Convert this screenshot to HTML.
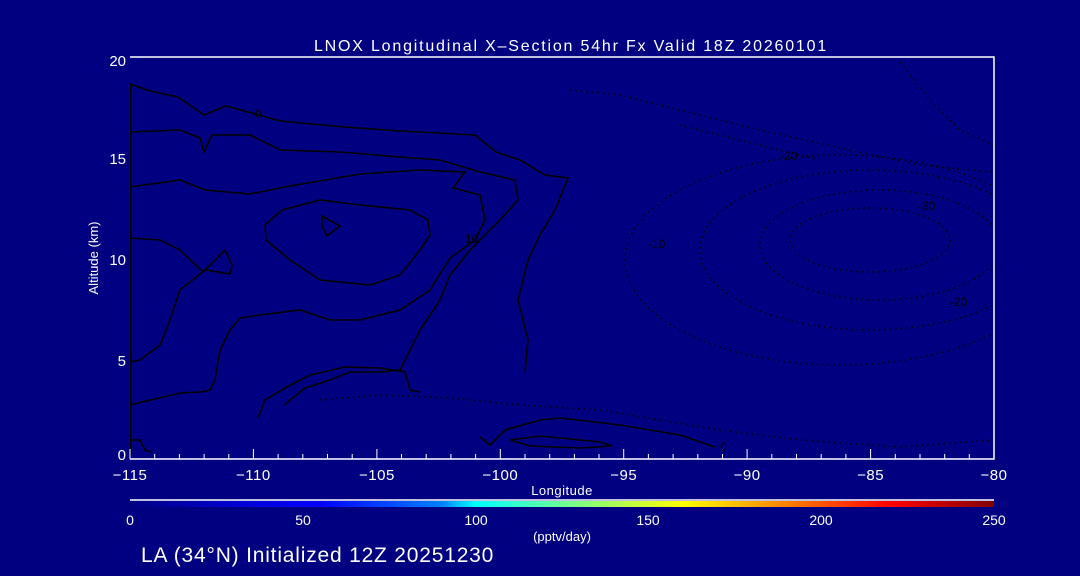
<!DOCTYPE html>
<html><head><meta charset="utf-8"><style>
html,body{margin:0;padding:0;background:#000080;}
svg{display:block;font-family:"Liberation Sans",sans-serif;}
</style></head><body>
<svg width="1080" height="576" viewBox="0 0 1080 576" xmlns="http://www.w3.org/2000/svg">
<defs>
<linearGradient id="jet" x1="0" x2="1" y1="0" y2="0">
<stop offset="0" stop-color="#000080"/>
<stop offset="0.12" stop-color="#0000d0"/>
<stop offset="0.22" stop-color="#0000ff"/>
<stop offset="0.36" stop-color="#0080ff"/>
<stop offset="0.40" stop-color="#00ffff"/>
<stop offset="0.52" stop-color="#80ff80"/>
<stop offset="0.64" stop-color="#ffff00"/>
<stop offset="0.76" stop-color="#ff8000"/>
<stop offset="0.88" stop-color="#ff0000"/>
<stop offset="1" stop-color="#800000"/>
</linearGradient>
<clipPath id="pc"><rect x="130" y="57" width="864" height="402"/></clipPath>
</defs>
<rect width="1080" height="576" fill="#000080"/>
<text x="571" y="51" fill="#fff" font-size="16" letter-spacing="1.8" text-anchor="middle">LNOX Longitudinal X–Section 54hr  Fx Valid 18Z 20260101</text>
<g clip-path="url(#pc)">
<g fill="none" stroke="#000" stroke-width="1.6">
<line x1="130" y1="84" x2="130" y2="455" stroke-width="3"/>
<polyline points="130,84 150,91 178,97 204,115 226,106 255,114 280,121 345,127 400,131 475,135 496,152 520,160 545,175 568,178 555,210 540,235 528,260 518,300 528,340 525,372"/>
<polyline points="130,132 180,130 200,138 204,152 212,135 250,135 280,150 340,152 400,157 440,160 480,172 515,180 518,200 500,220 470,250 450,275 440,300 420,330 400,370 380,372 350,372 330,380 305,388 290,400 285,405"/>
<polyline points="130,187 180,180 205,190 250,194 290,186 360,174 420,170 465,172 453,188 480,195 485,220 475,240 450,258 430,290 400,310 360,320 330,320 300,310 260,315 240,318 230,330 220,350 215,380 210,390 200,392 180,393 130,405"/>
<polygon points="265,225 282,210 320,200 360,205 410,210 428,220 430,235 420,250 400,275 370,285 320,280 290,260 266,240"/>
<polygon points="322,216 340,226 327,236 322,226"/>
<polyline points="130,238 160,240 180,250 203,272 225,250 232,265 230,274 205,270 180,290 170,320 160,345 140,360 130,362"/>
<polyline points="130,440 140,440 145,450 152,452"/>
<polyline points="258,418 265,400 285,388 310,375 345,367 380,368 405,372 410,390 420,392"/>
<polyline points="480,437 490,445 505,430 540,420 560,418 620,425 680,435 715,447"/>
<polygon points="510,440 540,436 600,442 612,446 580,448 530,446"/>
</g>
<g fill="none" stroke="#000" stroke-width="1.5" stroke-dasharray="1.5 4">
<ellipse cx="870" cy="240" rx="80" ry="32"/>
<ellipse cx="880" cy="245" rx="120" ry="55"/>
<ellipse cx="870" cy="250" rx="170" ry="80"/>
<ellipse cx="840" cy="260" rx="215" ry="105"/>
<polyline points="570,90 620,95 700,115 760,130 850,150 920,165 993,172"/>
<polyline points="900,62 930,100 960,130 993,145"/>
<polyline points="320,400 380,395 450,398 520,405 600,410 660,420 720,430 800,440 900,447 993,440"/>
<polyline points="680,125 760,145 820,160"/>
</g>
</g>
<g fill="#000" font-size="12">
<text x="255" y="118">0</text>
<text x="465" y="243">10</text>
<text x="648" y="248">-10</text>
<text x="780" y="160">-20</text>
<text x="918" y="210">-30</text>
<text x="950" y="306">-20</text>
<text x="720" y="451">0</text>
</g>
<g stroke="#fff" stroke-width="1.5" fill="none">
<polyline points="130,57 994,57 994,459 130,459"/>
</g>
<g stroke="#fff" stroke-width="1">
<line x1="130" y1="459" x2="130" y2="449"/><line x1="253.4" y1="459" x2="253.4" y2="449"/><line x1="376.9" y1="459" x2="376.9" y2="449"/><line x1="500.3" y1="459" x2="500.3" y2="449"/><line x1="623.7" y1="459" x2="623.7" y2="449"/><line x1="747.1" y1="459" x2="747.1" y2="449"/><line x1="870.6" y1="459" x2="870.6" y2="449"/>
<path d="M154.7 459v-5M179.4 459v-5M204.1 459v-5M228.8 459v-5M278.1 459v-5M302.8 459v-5M327.5 459v-5M352.2 459v-5M401.5 459v-5M426.2 459v-5M450.9 459v-5M475.6 459v-5M525 459v-5M549.7 459v-5M574.4 459v-5M599 459v-5M648.4 459v-5M673.1 459v-5M697.8 459v-5M722.5 459v-5M771.8 459v-5M796.5 459v-5M821.2 459v-5M845.9 459v-5M895.3 459v-5M920 459v-5M944.7 459v-5M969.3 459v-5"/>
</g>
<g fill="#fff" font-size="15" text-anchor="middle" letter-spacing="0.5">
<text x="130" y="480">−115</text><text x="253.4" y="480">−110</text><text x="376.9" y="480">−105</text><text x="500.3" y="480">−100</text><text x="623.7" y="480">−95</text><text x="747.1" y="480">−90</text><text x="870.6" y="480">−85</text><text x="994" y="480">−80</text>
<text x="562" y="495" font-size="13">Longitude</text>
</g>
<g fill="#fff" font-size="15" text-anchor="end">
<text x="126" y="66">20</text><text x="126" y="164">15</text><text x="126" y="265">10</text><text x="126" y="366">5</text><text x="126" y="460">0</text>
</g>
<text transform="translate(98,258) rotate(-90)" fill="#fff" font-size="13" text-anchor="middle">Altitude (km)</text>
<line x1="130" y1="500" x2="994" y2="500" stroke="#fff" stroke-width="1.5"/>
<rect x="130" y="501" width="864" height="6" fill="url(#jet)"/>
<g fill="#fff" font-size="14" text-anchor="middle">
<text x="130" y="525">0</text><text x="303" y="525">50</text><text x="476" y="525">100</text><text x="648" y="525">150</text><text x="821" y="525">200</text><text x="994" y="525">250</text>
<text x="562" y="541" font-size="13">(pptv/day)</text>
</g>
<text x="141" y="562" fill="#fff" font-size="21" letter-spacing="0.8">LA (34°N) Initialized 12Z 20251230</text>
</svg>
</body></html>
